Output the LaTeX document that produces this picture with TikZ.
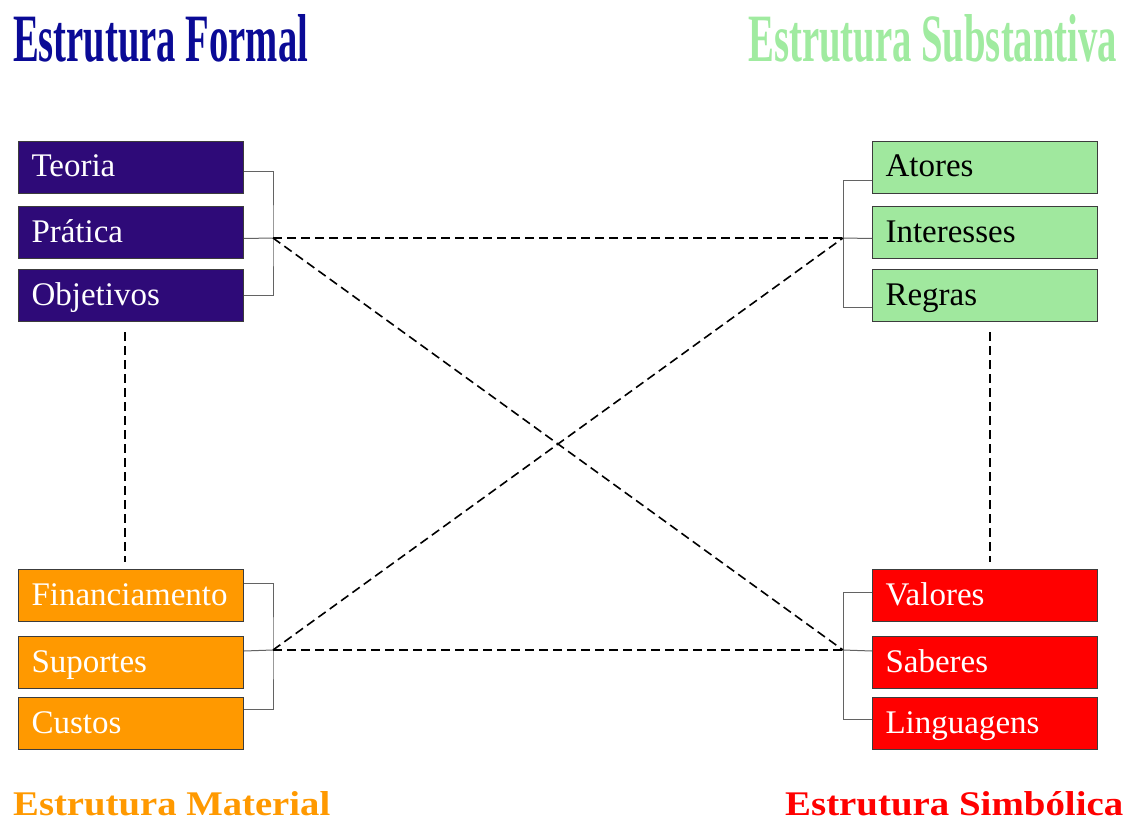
\documentclass[tikz,border=0pt]{standalone}
\usepackage{fontspec}
\setmainfont{Liberation Serif}
\usepackage{graphicx}
\definecolor{formalc}{RGB}{46,10,120}
\definecolor{substc}{RGB}{160,232,158}
\definecolor{matc}{RGB}{255,153,0}
\definecolor{simbc}{RGB}{255,0,0}
\definecolor{titleblue}{RGB}{10,10,150}
\definecolor{titlegreen}{RGB}{160,235,160}
\definecolor{edgec}{RGB}{60,60,60}
\tikzset{
  box/.style={draw=edgec, line width=1pt, anchor=north west, text width=199pt,
    align=left, inner xsep=13pt, inner ysep=0pt, minimum height=52pt,
    text height=23pt, text depth=4pt, font=\fontsize{33}{33}\selectfont},
  fbox/.style={box, fill=formalc, text=white},
  sbox/.style={box, fill=substc, text=black},
  mbox/.style={box, fill=matc, text=white},
  ybox/.style={box, fill=simbc, text=white},
  bracket/.style={draw=edgec!80, line width=1pt},
  link/.style={draw=black, line width=1.6pt, dash pattern=on 9pt off 5pt},
  ttl/.style={inner sep=0pt, anchor=base west, font=\bfseries}
}
\begin{document}
\begin{tikzpicture}[x=1pt,y=-1pt]
\useasboundingbox (0,0) rectangle (1137,821);
% titles
\node[ttl, text=titleblue] (tf) at (13,62) {\resizebox{295pt}{47pt}{Estrutura Formal}};
\node[ttl, text=titlegreen] (ts) at (748,62) {\resizebox{369pt}{47pt}{Estrutura Substantiva}};
\node[ttl, text=matc] (tm) at (13,815) {\resizebox{317pt}{24pt}{Estrutura Material}};
\node[ttl, text=simbc] (ty) at (785,815) {\resizebox{338pt}{24pt}{Estrutura Simbólica}};
% boxes
\node[fbox] (teoria) at (18,141) {Teoria};
\node[fbox] (pratica) at (18,206) {Prática};
\node[fbox] (objetivos) at (18,269) {Objetivos};
\node[sbox] (atores) at (872,141) {Atores};
\node[sbox] (interesses) at (872,206) {Interesses};
\node[sbox] (regras) at (872,269) {Regras};
\node[mbox] (financ) at (18,569) {Financiamento};
\node[mbox] (suportes) at (18,636) {Suportes};
\node[mbox] (custos) at (18,697) {Custos};
\node[ybox] (valores) at (872,569) {Valores};
\node[ybox] (saberes) at (872,636) {Saberes};
\node[ybox] (linguagens) at (872,697) {Linguagens};
% bracket junctions
\coordinate (bl1) at (273,238);
\coordinate (bl2) at (273,650);
\coordinate (br1) at (843,238);
\coordinate (br2) at (843,650);
\coordinate (vl1) at (125,332);
\coordinate (vl2) at (125,562);
\coordinate (vr1) at (990,332);
\coordinate (vr2) at (990,562);
% brackets
\draw[bracket] ([yshift=-4pt]teoria.east) -| (bl1) |- (objetivos.east);
\draw[bracket] ([yshift=-6pt]pratica.east) -- (bl1);
\draw[bracket] ([yshift=-13pt]atores.west) -| (br1) |- ([yshift=-11.5pt]regras.west);
\draw[bracket] ([yshift=-6pt]interesses.west) -- (br1);
\draw[bracket] ([yshift=12.5pt]financ.east) -| (bl2) |- ([yshift=14.5pt]custos.east);
\draw[bracket] ([yshift=11.5pt]suportes.east) -- (bl2);
\draw[bracket] ([yshift=3.5pt]valores.west) -| (br2) |- ([yshift=4.5pt]linguagens.west);
\draw[bracket] ([yshift=11.5pt]saberes.west) -- (br2);
% dashed links
\draw[link] (bl1) -- (br1);
\draw[link] (bl1) -- (br2);
\draw[link] (bl2) -- (br1);
\draw[link] (bl2) -- (br2);
\draw[link] (vl1) -- (vl2);
\draw[link] (vr1) -- (vr2);
\end{tikzpicture}
\end{document}
